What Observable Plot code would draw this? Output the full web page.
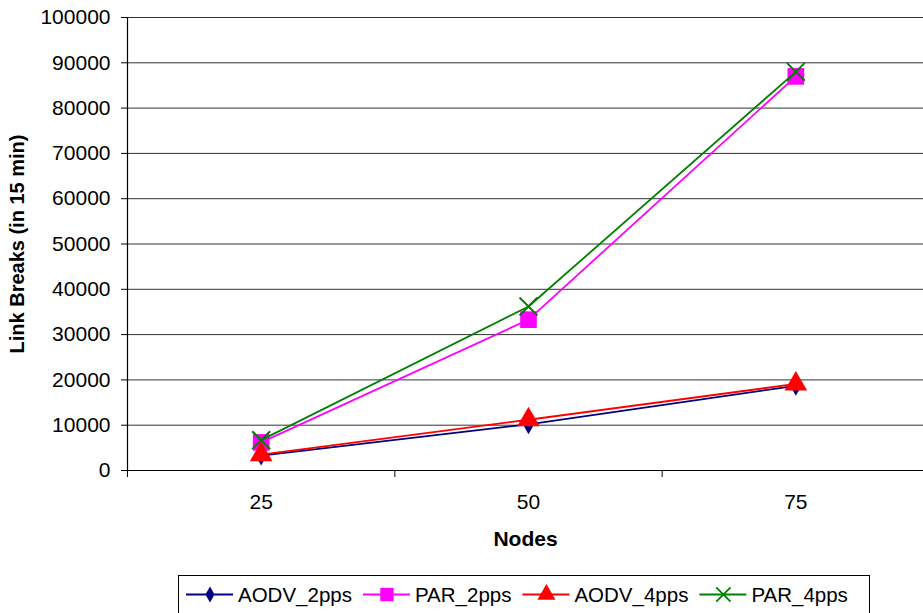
<!DOCTYPE html>
<html><head><meta charset="utf-8">
<script src="https://cdn.jsdelivr.net/npm/d3@7"></script>
<script src="https://cdn.jsdelivr.net/npm/@observablehq/plot@0.6"></script>
<style>
body{margin:0;background:#fff;font-family:"Liberation Sans",Arial,sans-serif;}
#wrap{position:relative;width:923px;height:613px;overflow:hidden;background:#fff;}
#legend{position:absolute;left:178px;top:575px;}
</style></head><body><div id="wrap"></div>
<script>
// ---- data ----
const nodes = [25, 50, 75];
const seriesNames = ["AODV_2pps", "PAR_2pps", "AODV_4pps", "PAR_4pps"];
const aodv2 = [3300, 10200, 18700];
const par2 = [6200, 33300, 87000];
const aodv4 = [3500, 11200, 19100];
const par4 = [6700, 36200, 88000];
const yTicks = d3.range(0, 100001, 10000);
const xLabel = "Nodes";
const yLabel = "Link Breaks (in 15 min)";

const seriesValues = [aodv2, par2, aodv4, par4];
const colors = ["#000080", "#FF00FF", "#FF0000", "#008000"];
const symbols = ["diamond", "square", "triangle", "times"];
const radii = [6, 9.4, 8.4, 8.2];

const step = nodes[1] - nodes[0];
const bounds = [...nodes.map(n => n - step / 2), nodes[nodes.length - 1] + step / 2];

const rows = seriesNames.map((s, i) => nodes.map((n, j) => ({series: s, node: n, value: seriesValues[i][j]})));

const marks = [
  Plot.ruleY(yTicks.filter(t => t > 0), {stroke: "#333", strokeWidth: 1}),
  Plot.axisY({ticks: yTicks, tickSize: 6, tickPadding: 11, tickFormat: d => String(d), fontSize: 21, stroke: "#000"}),
  Plot.axisX({ticks: bounds, tickSize: 7, tickFormat: () => "", stroke: "#000"}),
  Plot.axisX({ticks: nodes, tickSize: 0, tickPadding: 24, tickFormat: d => String(d), fontSize: 21}),
  Plot.ruleY([0], {stroke: "#000", strokeWidth: 1.2}),
  Plot.ruleX([bounds[0]], {stroke: "#000", strokeWidth: 1.2}),
  Plot.text([xLabel], {frameAnchor: "bottom", dy: 75, fontWeight: "bold", fontSize: 21, fill: "#000"}),
  Plot.text([yLabel], {frameAnchor: "left", dx: -110, rotate: -90, textAnchor: "middle", fontWeight: "bold", fontSize: 20, fill: "#000"})
];
rows.forEach((data, i) => {
  marks.push(Plot.line(data, {x: "node", y: "value", stroke: colors[i], strokeWidth: 1.8}));
  if (symbols[i] === "times") {
    marks.push(Plot.dot(data, {x: "node", y: "value", symbol: symbols[i], stroke: colors[i], fill: "none", strokeWidth: 2, r: radii[i]}));
  } else {
    marks.push(Plot.dot(data, {x: "node", y: "value", symbol: symbols[i], fill: colors[i], stroke: "none", r: radii[i]}));
  }
});

const chart = Plot.plot({
  width: 923,
  height: 613,
  marginLeft: 127,
  marginRight: 0,
  marginTop: 17,
  marginBottom: 143,
  style: {fontFamily: "'Liberation Sans', Arial, sans-serif", color: "#000", background: "#fff", overflow: "hidden"},
  x: {type: "linear", domain: [bounds[0], bounds[bounds.length - 1]], range: [127, 929], label: null},
  y: {domain: [0, 100000], label: null},
  marks
});
document.getElementById("wrap").appendChild(chart);

// ---- legend ----
const lg = d3.select("#wrap").append("div").attr("id", "legend");
const W = 692, H = 48;
const svg = lg.append("svg").attr("width", W).attr("height", H).style("display", "block");
svg.append("rect").attr("x", 0.5).attr("y", 0.5).attr("width", W - 1).attr("height", H + 10).attr("fill", "#fff").attr("stroke", "#000");
const d3sym = {diamond: d3.symbolDiamond, square: d3.symbolSquare, triangle: d3.symbolTriangle, times: d3.symbolTimes};
let cx = 8;
const ly = 19.5;
seriesNames.forEach((s, i) => {
  const g = svg.append("g");
  g.append("line").attr("x1", cx).attr("x2", cx + 47).attr("y1", ly).attr("y2", ly).attr("stroke", colors[i]).attr("stroke-width", 1.8);
  const size = Math.PI * (radii[i] * 0.8) ** 2;
  const p = g.append("path").attr("d", d3.symbol(d3sym[symbols[i]], size)()).attr("transform", `translate(${cx + 24},${ly})`);
  if (symbols[i] === "times") p.attr("fill", "none").attr("stroke", colors[i]).attr("stroke-width", 1.8);
  else p.attr("fill", colors[i]);
  const t = g.append("text").attr("x", cx + 52).attr("y", ly).attr("dy", "0.35em").attr("font-size", 20.5).attr("fill", "#000").text(s);
  cx += 52 + t.node().getComputedTextLength() + 11;
});
</script></body></html>
